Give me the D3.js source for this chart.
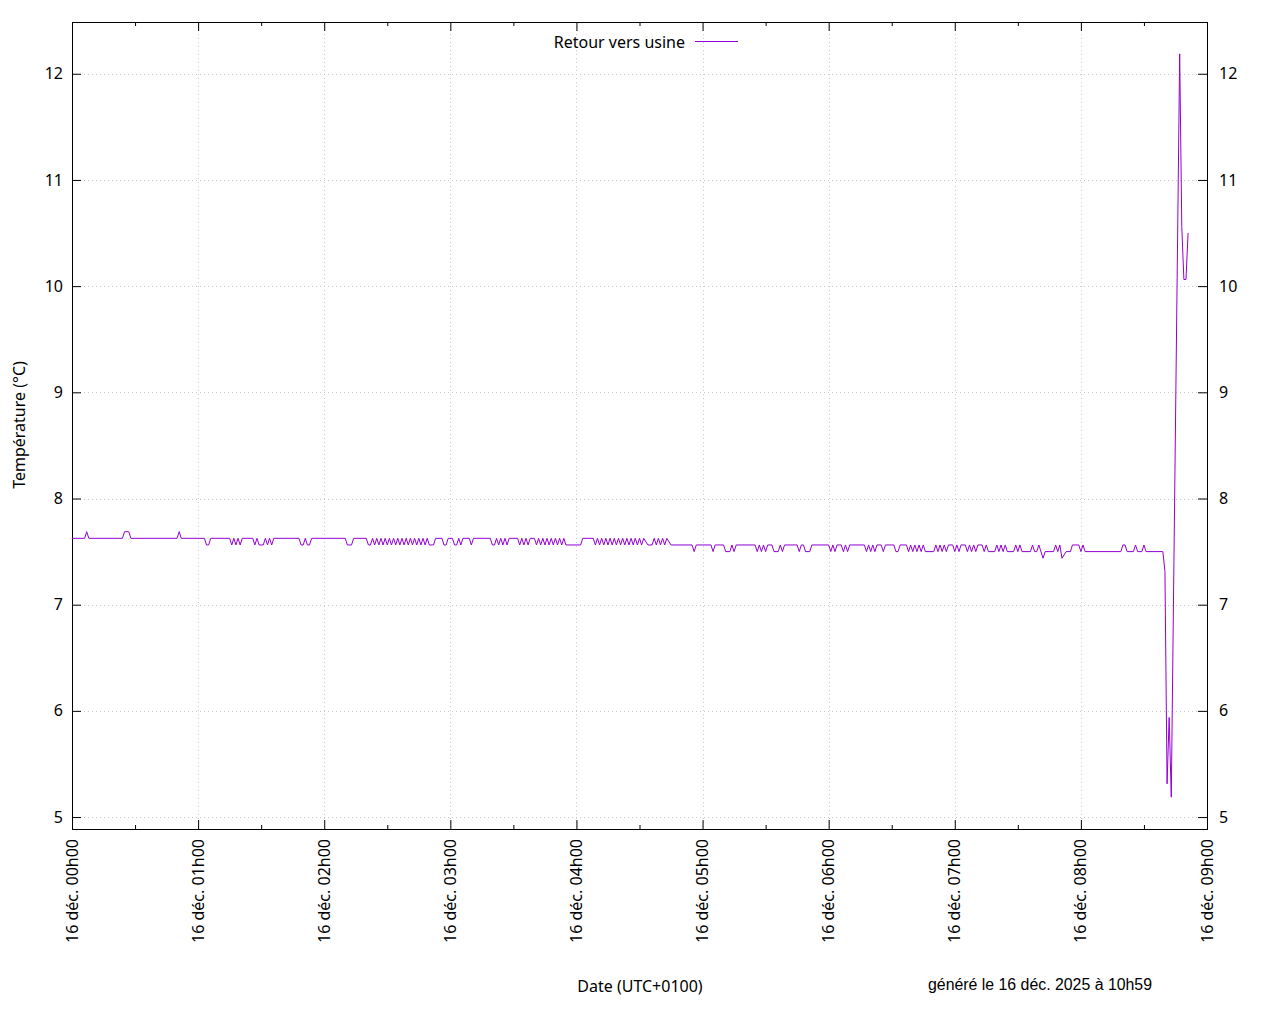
<!DOCTYPE html>
<html><head><meta charset="utf-8">
<script src="https://cdn.jsdelivr.net/npm/d3@7"></script>
<style>body{margin:0;background:#fff;} text{font-family:"Noto Sans",sans-serif;fill:#000;}</style>
</head><body><svg id="c" width="1280" height="1024"></svg>
<script>
// ---- data: [minutes after 16 déc. 00h00, temperature °C] (vertices of the recorded curve) ----
const readingsH0_4 = [
[0,7.625],[6,7.625],[7,7.6875],[8,7.625],[24,7.625],[25,7.6875],[27,7.6875],[28,7.625],
[50,7.625],[51,7.6875],[52,7.625],[63,7.625],[64,7.5625],[65,7.5625],[66,7.625],
[75,7.625],[76,7.5625],[77,7.625],[78,7.5625],[79,7.625],[80,7.5625],[81,7.625],
[86,7.625],[87,7.5625],[88,7.625],[89,7.5625],[91,7.5625],[92,7.625],[93,7.5625],[94,7.625],[95,7.5625],[96,7.625],
[108,7.625],[109,7.5625],[110,7.5625],[111,7.625],[112,7.5625],[113,7.5625],[114,7.625],
[130,7.625],[131,7.5625],[133,7.5625],[134,7.625],[140,7.625],[141,7.5625],[142,7.5625],
[143,7.625],[144,7.5625],[145,7.625],[146,7.5625],[147,7.625],[148,7.5625],[149,7.625],[150,7.5625],
[151,7.625],[152,7.5625],[153,7.625],[154,7.5625],[155,7.625],[156,7.5625],[157,7.625],[158,7.5625],
[159,7.625],[160,7.5625],[161,7.625],[162,7.5625],[163,7.625],[164,7.5625],[165,7.625],[166,7.5625],
[167,7.625],[168,7.5625],[169,7.625],[170,7.5625],[172,7.5625],[173,7.625],[176,7.625],[177,7.5625],[178,7.5625],[179,7.625],
[181,7.625],[182,7.5625],[183,7.5625],[184,7.625],[185,7.5625],[186,7.625],[189,7.625],[190,7.5625],[191,7.625],
[199,7.625],[200,7.5625],[201,7.5625],[202,7.625],[203,7.5625],[204,7.625],[205,7.5625],[206,7.625],[207,7.5625],[208,7.625],
[212,7.625],[213,7.5625],[214,7.625],[215,7.5625],[216,7.625],[217,7.5625],[218,7.625],[220,7.625],
[221,7.5625],[222,7.625],[223,7.5625],[224,7.625],[225,7.5625],[226,7.625],[227,7.5625],[228,7.625],
[229,7.5625],[230,7.625],[231,7.5625],[232,7.625],[233,7.5625],[234,7.625],[235,7.5625],[242,7.5625],[243,7.625]
];
const readingsH4_9 = [
[248,7.625],[249,7.5625],[250,7.625],[251,7.5625],[252,7.625],[253,7.5625],[254,7.625],[255,7.5625],
[256,7.625],[257,7.5625],[258,7.625],[259,7.5625],[260,7.625],[261,7.5625],[262,7.625],[263,7.5625],
[264,7.625],[265,7.5625],[266,7.625],[267,7.5625],[268,7.625],[269,7.5625],[270,7.625],[271,7.5625],
[272,7.625],[274,7.5625],[276,7.5625],[277,7.625],[278,7.5625],[279,7.625],[280,7.5625],[281,7.625],
[282,7.5625],[283,7.625],[285,7.5625],
[295,7.5625],[296,7.5],[297,7.5625],[304,7.5625],[305,7.5],[306,7.5625],
[310,7.5625],[311,7.5],[313,7.5],[314,7.5625],[315,7.5],[316,7.5625],
[325,7.5625],[326,7.5],[327,7.5625],[328,7.5],[329,7.5625],[330,7.5],[331,7.5625],
[333,7.5625],[334,7.5],[336,7.5],[337,7.5625],[338,7.5],[339,7.5625],
[345,7.5625],[346,7.5],[347,7.5625],[348,7.5625],[349,7.5],[351,7.5],[352,7.5625],
[360,7.5625],[361,7.5],[362,7.5625],[363,7.5],[364,7.5625],
[366,7.5625],[367,7.5],[368,7.5625],[369,7.5],[370,7.5625],
[377,7.5625],[378,7.5],[379,7.5625],[380,7.5],[381,7.5625],[382,7.5],[383,7.5625],[385,7.5625],[386,7.5],[387,7.5625],
[391,7.5625],[392,7.5],[393,7.5],[394,7.5625],
[397,7.5625],[398,7.5],[399,7.5625],[400,7.5],[401,7.5625],[402,7.5],[403,7.5625],[404,7.5],[405,7.5625],[406,7.5],[410,7.5],
[411,7.5625],[412,7.5],[413,7.5625],[414,7.5],[415,7.5625],[416,7.5],[417,7.5625],[419,7.5625],[420,7.5],[421,7.5625],
[422,7.5],[423,7.5625],[425,7.5625],[426,7.5],[427,7.5625],[428,7.5],[429,7.5625],[430,7.5],[431,7.5625],
[433,7.5625],[434,7.5],[435,7.5625],[436,7.5],[439,7.5],[440,7.5625],[441,7.5],[442,7.5625],[443,7.5],[444,7.5625],
[445,7.5],[448,7.5],[449,7.5625],[450,7.5],[451,7.5625],[452,7.5],[456,7.5],[457,7.5625],[458,7.5],[459,7.5],[460,7.5625],
[462,7.4375],[463,7.5],[467,7.5],[468,7.5625],[469,7.5],[470,7.5625],[471,7.4375],[473,7.5],[475,7.5],[476,7.5625],
[479,7.5625],[480,7.5],[481,7.5625],[482,7.5],[499,7.5],[500,7.5625],[501,7.5625],[502,7.5],[505,7.5],[506,7.5625],
[507,7.5],[509,7.5],[510,7.5625],[511,7.5],[519,7.5],[520,7.3125],[521,5.3125],[522,5.9375],[523,5.1875],
[527,12.1875],[528,10.5625],[529,10.0625],[530,10.0625],[531,10.5]
];
const yTicks = [5,6,7,8,9,10,11,12];
const xTickMinutes = [0,60,120,180,240,300,360,420,480,540];
const xTickLabels = ["16 déc. 00h00","16 déc. 01h00","16 déc. 02h00","16 déc. 03h00","16 déc. 04h00","16 déc. 05h00","16 déc. 06h00","16 déc. 07h00","16 déc. 08h00","16 déc. 09h00"];
const xMinorMinutes = [30,90,150,210,270,330,390,450,510];
const seriesName = "Retour vers usine";
const yLabel = "Température (°C)";
const xLabel = "Date (UTC+0100)";
const footer = "généré le 16 déc. 2025 à 10h59";

// ---- layout ----
const L = 72, R = 1207, T = 22, B = 829;
const svg = d3.select("#c");
svg.append("rect").attr("width",1280).attr("height",1024).attr("fill","#fff");
const x = d3.scaleLinear().domain([0,540]).range([L,R]);
const y = d3.scaleLinear().domain([4.8875,12.4875]).range([B,T]);

// grid
const grid = svg.append("g").attr("stroke","#c8c8c8").attr("stroke-width",1).attr("stroke-dasharray","1,3");
grid.selectAll("line.gy").data(yTicks).join("line").attr("x1",L).attr("x2",R)
  .attr("y1",d=>Math.round(y(d))+0.5).attr("y2",d=>Math.round(y(d))+0.5);
grid.selectAll("line.gx").data(xTickMinutes.slice(1,-1)).join("line").attr("y1",T).attr("y2",B)
  .attr("x1",d=>Math.round(x(d))+0.5).attr("x2",d=>Math.round(x(d))+0.5);

function styleAxis(g){ g.select(".domain").remove(); g.selectAll("line").attr("stroke","#000"); g.selectAll("text").remove(); }
svg.append("g").attr("transform",`translate(0,${B})`).call(d3.axisBottom(x).tickValues(xTickMinutes).tickSize(-9).tickFormat("")).call(styleAxis);
svg.append("g").attr("transform",`translate(0,${B})`).call(d3.axisBottom(x).tickValues(xMinorMinutes).tickSize(-4).tickFormat("")).call(styleAxis);
svg.append("g").attr("transform",`translate(0,${T})`).call(d3.axisTop(x).tickValues(xTickMinutes).tickSize(-9).tickFormat("")).call(styleAxis);
svg.append("g").attr("transform",`translate(0,${T})`).call(d3.axisTop(x).tickValues(xMinorMinutes).tickSize(-4).tickFormat("")).call(styleAxis);
svg.append("g").attr("transform",`translate(${L},0)`).call(d3.axisLeft(y).tickValues(yTicks).tickSize(-9).tickFormat("")).call(styleAxis);
svg.append("g").attr("transform",`translate(${R},0)`).call(d3.axisRight(y).tickValues(yTicks).tickSize(-9).tickFormat("")).call(styleAxis);

// tick labels
svg.append("g").selectAll("text").data(yTicks).join("text")
  .attr("x",63).attr("y",d=>y(d)).attr("dy","0.35em").attr("text-anchor","end").attr("font-size",16).text(d=>d);
svg.append("g").selectAll("text").data(yTicks).join("text")
  .attr("x",1219).attr("y",d=>y(d)).attr("dy","0.35em").attr("text-anchor","start").attr("font-size",16).text(d=>d);
svg.append("g").selectAll("text").data(xTickMinutes).join("text")
  .attr("transform",(d)=>`translate(${x(d)},839) rotate(-90)`).attr("dy","0.35em")
  .attr("text-anchor","end").attr("font-size",16).text((d,i)=>xTickLabels[i]);

// border
svg.append("rect").attr("x",L+0.5).attr("y",T+0.5).attr("width",R-L).attr("height",B-T)
  .attr("fill","none").attr("stroke","#000").attr("stroke-width",1);

// series
const pts = readingsH0_4.concat(readingsH4_9);
svg.append("path").datum(pts).attr("fill","none").attr("stroke","#9400d3").attr("stroke-width",1)
  .attr("d",d3.line().x(d=>x(d[0])).y(d=>y(d[1])));

// legend
svg.append("text").attr("x",685).attr("y",42).attr("dy","0.35em").attr("text-anchor","end").attr("font-size",16).text(seriesName);
svg.append("line").attr("x1",695).attr("x2",738).attr("y1",41.5).attr("y2",41.5).attr("stroke","#9400d3").attr("stroke-width",1);

// labels
svg.append("text").attr("transform","translate(19,425) rotate(-90)").attr("dy","0.35em").attr("text-anchor","middle").attr("font-size",16).text(yLabel);
svg.append("text").attr("x",640).attr("y",986).attr("dy","0.35em").attr("text-anchor","middle").attr("font-size",16).text(xLabel);
svg.append("text").attr("x",928).attr("y",984).attr("dy","0.35em").attr("text-anchor","start").attr("font-size",16)
  .style("font-family","'Liberation Sans Narrow','Liberation Sans',sans-serif").attr("textLength",224).attr("lengthAdjust","spacingAndGlyphs").text(footer);
</script></body></html>
